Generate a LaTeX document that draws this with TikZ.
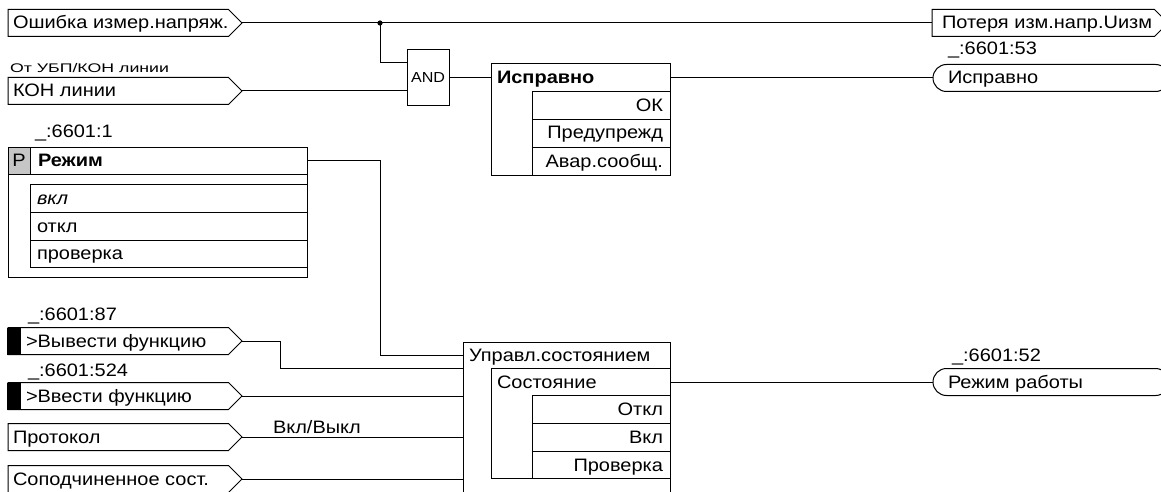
\documentclass[tikz,border=0pt]{standalone}
\usepackage{fontspec}
\setmainfont{Liberation Sans}[FakeStretch=1.11]
\newfontfamily\widefont{Liberation Sans}[FakeStretch=1.42]
\usetikzlibrary{shapes.symbols,shapes.misc}
\begin{document}
\begin{tikzpicture}[x=1pt,y=-1pt,
  line width=1pt,
  every node/.style={inner sep=0pt, outer sep=0pt},
  lbl/.style={anchor=base west, font=\fontsize{18}{20}\selectfont},
  lblr/.style={anchor=base east, font=\fontsize{18}{20}\selectfont},
  small/.style={anchor=base west, font=\widefont\fontsize{12.5}{14}\selectfont},
  inbox/.style={draw, signal, signal to=east, signal from=nowhere,
    minimum width=234pt, minimum height=27pt, anchor=west},
  outsig/.style={inbox, minimum width=236pt},
  pill/.style={draw, rounded rectangle, minimum width=236pt,
    minimum height=27pt, anchor=west},
  blk/.style={draw, rectangle, anchor=north west},
  flag/.style={fill=black, minimum width=14pt, minimum height=27pt, anchor=west},
]
\useasboundingbox (0,0) rectangle (1161,492);
\clip (0,0) rectangle (1161,492);

% ---- input signals
\node[inbox] (e1) at (8,23) {};
\node[lbl] (e1t) at (13,29) {Ошибка измер.напряж.};
\node[small] (e2c) at (10,73) {От УБП/КОН линии};
\node[inbox] (e2) at (8,91) {};
\node[lbl] (e2t) at (13,97) {КОН линии};

\node[lbl] (e3c) at (28,320) {\_:6601:87};
\node[inbox] (e3) at (8,341) {};
\node[flag] (e3f) at (7,341) {};
\node[lbl] (e3t) at (26,347) {>Вывести функцию};
\node[lbl] (e4c) at (28,376) {\_:6601:524};
\node[inbox] (e4) at (8,396) {};
\node[flag] (e4f) at (7,396) {};
\node[lbl] (e4t) at (26,402) {>Ввести функцию};
\node[inbox] (e5) at (8,437) {};
\node[lbl] (e5t) at (13,443) {Протокол};
\node[inbox] (e6) at (8,479) {};
\node[lbl] (e6t) at (13,485) {Соподчиненное сост.};

% ---- AND gate
\node[draw, minimum width=42pt, minimum height=56pt,
  font=\fontsize{14.5}{16}\selectfont] (and) at (428,78) {AND};

% ---- block "Исправно"
\node[blk, minimum width=179pt, minimum height=111pt] (ok) at (491,64) {};
\draw (532,92) rectangle (670,175);
\draw (532,120) -- (670,120);
\draw (532,147) -- (670,147);
\node[lbl, font=\fontsize{18}{20}\selectfont\bfseries] (okt) at (497,84) {Исправно};
\node[lblr] (ok1) at (663,112) {ОК};
\node[lblr] (ok2) at (663,139) {Предупрежд};
\node[lblr] (ok3) at (663,167) {Авар.сообщ.};

% ---- block "Режим"
\node[lbl] (modec) at (35,138) {\_:6601:1};
\node[blk, minimum width=299pt, minimum height=130pt] (mode) at (8,147) {};
\node[blk, fill=gray!45, minimum width=22pt, minimum height=27pt] (pcell) at (8,147) {};
\node[blk, minimum width=277pt, minimum height=27pt] (modeT) at (30,147) {};
\node[font=\fontsize{18}{20}\selectfont, anchor=base] (pt) at (19,166) {P};
\node[lbl, font=\fontsize{18}{20}\selectfont\bfseries] (modet) at (38,166) {Режим};
\draw (30,184) rectangle (307,267);
\draw (30,212) -- (307,212);
\draw (30,240) -- (307,240);
\node[lbl, font=\fontsize{18}{20}\selectfont\itshape] (m1) at (37,204) {вкл};
\node[lbl] (m2) at (37,232) {откл};
\node[lbl] (m3) at (37,259) {проверка};

% ---- block "Управл.состоянием"
\node[blk, minimum width=207pt, minimum height=180pt] (ctl) at (463,342) {};
\node[anchor=north west, minimum width=207pt, minimum height=26pt] (ctlT) at (463,342) {};
\node[lbl] (ctlt) at (469,361) {Управл.состоянием};
\node[blk, minimum width=179pt, minimum height=110pt] (st) at (491,368) {};
\node[lbl] (stt) at (497,388) {Состояние};
\draw (532,395) rectangle (670,478);
\draw (532,423) -- (670,423);
\draw (532,451) -- (670,451);
\node[lblr] (s1) at (663,415) {Откл};
\node[lblr] (s2) at (663,443) {Вкл};
\node[lblr] (s3) at (663,471) {Проверка};

% ---- outputs
\node[outsig] (o1) at (932,23) {};
\node[lbl] (o1t) at (942,29) {Потеря изм.напр.Uизм};
\node[lbl] (o2c) at (948,55) {\_:6601:53};
\node[pill] (o2) at (933,78) {};
\node[lbl] (o2t) at (948,84) {Исправно};
\node[lbl] (o3c) at (952,361) {\_:6601:52};
\node[pill] (o3) at (933,382) {};
\node[lbl] (o3t) at (948,388) {Режим работы};

% ---- connectors
\coordinate (j1) at (380,23);
\coordinate (bend) at (280,341);
\draw (e1.east) -- (o1.west);
\fill (j1) circle (2.6pt);
\draw (j1) |- ([yshift=15pt]and.west);
\draw (e2.east) -- (e2.east -| and.west);
\draw (and.east) -- (and.east -| ok.west);
\draw (and.east -| ok.east) -- (o2.west);
\draw (modeT.east) -- (modeT.east -| j1) -- (j1 |- ctlT.west) -- (ctlT.west);
\draw (e3.east) -- (bend) -- (bend |- ctlT.south west) -- (ctlT.south west);
\draw (e4.east) -- (e4.east -| ctl.west);
\draw (e5.east) -- (e5.east -| ctl.west);
\node[lbl] (e5l) at (273,433) {Вкл/Выкл};
\draw (e6.east) -- (e6.east -| ctl.west);
\draw (o3.west -| st.east) -- (o3.west);
\end{tikzpicture}
\end{document}
